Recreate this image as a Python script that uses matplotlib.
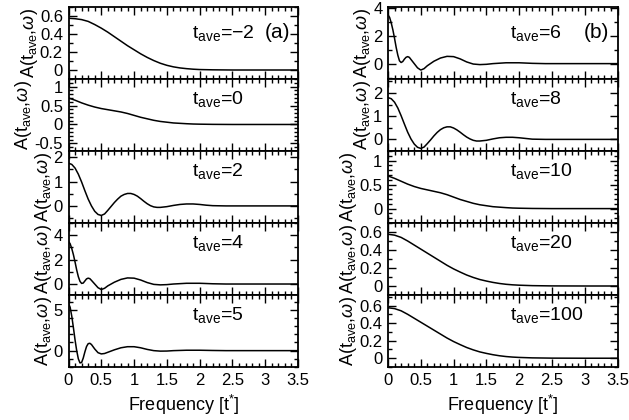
import matplotlib
matplotlib.use('Agg')
import matplotlib.pyplot as plt
from matplotlib.ticker import MultipleLocator, FormatStrFormatter

plt.rcParams['font.family'] = ['Liberation Sans', 'DejaVu Sans']
plt.rcParams['mathtext.fontset'] = 'custom'
plt.rcParams['mathtext.rm'] = 'Liberation Sans'
plt.rcParams['mathtext.it'] = 'Liberation Sans:italic'

# frequency grids
f_smooth = [0, 0.1, 0.2, 0.3, 0.4, 0.5, 0.6, 0.7, 0.8, 0.9, 1.0, 1.1, 1.2, 1.3,
            1.4, 1.5, 1.6, 1.7, 1.8, 1.9, 2.0, 2.2, 2.5, 3.0, 3.5]
f_osc = [0, 0.025, 0.05, 0.075, 0.1, 0.125, 0.15, 0.175, 0.2, 0.225, 0.25,
         0.275, 0.3, 0.325, 0.35, 0.4, 0.45, 0.5, 0.55, 0.6, 0.7, 0.8, 0.9,
         1.0, 1.1, 1.2, 1.3, 1.4, 1.5, 1.6, 1.8, 2.0, 2.2, 2.4, 3.5]
f_mid = [0, 0.05, 0.1, 0.15, 0.2, 0.25, 0.3, 0.35, 0.4, 0.45, 0.5, 0.55, 0.6,
         0.65, 0.7, 0.75, 0.8, 0.85, 0.9, 0.95, 1.0, 1.05, 1.1, 1.15, 1.2,
         1.25, 1.3, 1.35, 1.4, 1.5, 1.6, 1.7, 1.8, 1.9, 2.0, 2.1, 2.2, 2.4, 3.5]

a_m2 = [0.575, 0.57, 0.56, 0.54, 0.505, 0.465, 0.42, 0.37, 0.32, 0.27, 0.225,
        0.18, 0.14, 0.105, 0.075, 0.052, 0.035, 0.023, 0.015, 0.009, 0.005,
        0.002, 0, 0, 0]
a_0 = [0.70, 0.64, 0.57, 0.51, 0.46, 0.42, 0.39, 0.36, 0.33, 0.29, 0.24, 0.19,
       0.15, 0.11, 0.08, 0.06, 0.04, 0.03, 0.02, 0.012, 0.008, 0.003, 0, 0, 0]
a_2 = [1.75, 1.70, 1.55, 1.30, 0.98, 0.62, 0.28, 0.0, -0.22, -0.35, -0.39,
       -0.33, -0.18, -0.02, 0.14, 0.28, 0.40, 0.47, 0.51, 0.51, 0.47, 0.40,
       0.30, 0.19, 0.09, 0.01, -0.04, -0.06, -0.06, -0.03, 0.02, 0.06, 0.08,
       0.08, 0.06, 0.03, 0.01, 0, 0]
a_4 = [3.5, 3.3, 2.9, 2.4, 1.8, 1.15, 0.6, 0.22, 0.05, 0.08, 0.25, 0.42, 0.48,
       0.44, 0.3, 0.0, -0.3, -0.45, -0.35, -0.15, 0.15, 0.38, 0.5, 0.48,
       0.33, 0.12, -0.03, -0.07, -0.05, 0.0, 0.06, 0.06, 0.02, 0, 0]
a_5 = [5.8, 5.3, 4.2, 2.8, 1.3, 0.0, -1.0, -1.5, -1.45, -0.9, -0.15, 0.5,
       0.85, 0.9, 0.75, 0.2, -0.25, -0.4, -0.35, -0.2, 0.1, 0.35, 0.48, 0.48,
       0.35, 0.15, 0.0, -0.06, -0.05, 0.0, 0.05, 0.05, 0.02, 0, 0]
a_6 = [3.5, 3.3, 2.9, 2.4, 1.8, 1.15, 0.6, 0.2, 0.08, 0.15, 0.32, 0.45, 0.5,
       0.45, 0.3, 0.0, -0.3, -0.46, -0.36, -0.15, 0.17, 0.4, 0.52, 0.5,
       0.34, 0.12, -0.03, -0.07, -0.05, 0.0, 0.06, 0.06, 0.02, 0, 0]
a_8 = [1.80, 1.75, 1.60, 1.35, 1.02, 0.66, 0.31, 0.02, -0.20, -0.34, -0.39,
       -0.33, -0.18, -0.02, 0.15, 0.30, 0.42, 0.50, 0.54, 0.54, 0.49, 0.41,
       0.31, 0.20, 0.10, 0.02, -0.04, -0.07, -0.07, -0.04, 0.02, 0.07, 0.09,
       0.09, 0.07, 0.04, 0.01, 0, 0]
a_10 = [0.68, 0.63, 0.57, 0.51, 0.46, 0.42, 0.39, 0.36, 0.33, 0.29, 0.24,
        0.19, 0.15, 0.11, 0.08, 0.06, 0.04, 0.03, 0.02, 0.012, 0.008, 0.003,
        0, 0, 0]
a_20 = [0.575, 0.565, 0.54, 0.50, 0.455, 0.41, 0.365, 0.32, 0.275, 0.23, 0.19,
        0.155, 0.122, 0.095, 0.072, 0.055, 0.04, 0.028, 0.019, 0.013, 0.009,
        0.004, 0.001, 0, 0]
a_100 = [0.575, 0.565, 0.54, 0.50, 0.455, 0.41, 0.365, 0.32, 0.275, 0.23, 0.19,
         0.155, 0.122, 0.095, 0.072, 0.055, 0.04, 0.028, 0.019, 0.013, 0.009,
         0.004, 0.001, 0, 0]

# (label, x, y, ylim, major, minor)
left = [
    ('-2', f_smooth, a_m2, (-0.1, 0.7), 0.2, 0.1),
    ('0', f_smooth, a_0, (-0.7, 1.2), 0.5, 0.1),
    ('2', f_mid, a_2, (-0.7, 2.25), 1, 0.5),
    ('4', f_osc, a_4, (-0.9, 5.0), 2, 1),
    ('5', f_osc, a_5, (-2.0, 6.8), 5, 1),
]
right = [
    ('6', f_osc, a_6, (-1.1, 4.05), 2, 1),
    ('8', f_mid, a_8, (-0.5, 2.6), 1, 0.5),
    ('10', f_smooth, a_10, (-0.3, 1.2), 0.5, 0.1),
    ('20', f_smooth, a_20, (-0.1, 0.7), 0.2, 0.1),
    ('100', f_smooth, a_100, (-0.1, 0.72), 0.2, 0.1),
]

fig = plt.figure(figsize=(6.29, 4.2), dpi=100)
W, H = 629, 420
ph = 72.0

for col, (x0, panels, tag) in enumerate([(68.5, left, '(a)'), (388, right, '(b)')]):
    for i, (lab, x, y, yl, maj, mnr) in enumerate(panels):
        top = 7 + i * ph
        ax = fig.add_axes([x0 / W, 1 - (top + ph) / H, 229.5 / W, ph / H])
        ax.plot(x, y, color='black', lw=1.1)
        ax.set_xlim(0, 3.5)
        ax.set_ylim(*yl)
        ax.xaxis.set_major_locator(MultipleLocator(0.5))
        ax.xaxis.set_minor_locator(MultipleLocator(0.1))
        ax.yaxis.set_major_locator(MultipleLocator(maj))
        ax.yaxis.set_minor_locator(MultipleLocator(mnr))
        ax.xaxis.set_major_formatter(FormatStrFormatter('%g'))
        ax.yaxis.set_major_formatter(FormatStrFormatter('%g'))
        ax.tick_params(which='both', direction='in', top=True, right=True,
                       labelsize=12, width=1.0, pad=4)
        ax.tick_params(which='major', length=6)
        ax.tick_params(which='minor', length=3)
        for s in ax.spines.values():
            s.set_linewidth(1.3)
        if i < 4:
            ax.tick_params(labelbottom=False)
        else:
            ax.set_xlabel('Frequency [t$^{*}$]', fontsize=13, labelpad=4)
        ax.set_ylabel('A(t$_{\\rm ave}$,$\\omega$)', fontsize=13, labelpad=0)
        txt = '$\\rm t_{ave}$=' + lab.replace('-', '\u2212')
        ax.text(0.54 if col == 0 else 0.53, 0.72 if i else 0.64, txt,
                transform=ax.transAxes, fontsize=14, va='center', ha='left')
        if i == 0:
            ax.text(0.965, 0.64, tag, transform=ax.transAxes, fontsize=15,
                    va='center', ha='right')

fig.savefig('out.png', dpi=100)
